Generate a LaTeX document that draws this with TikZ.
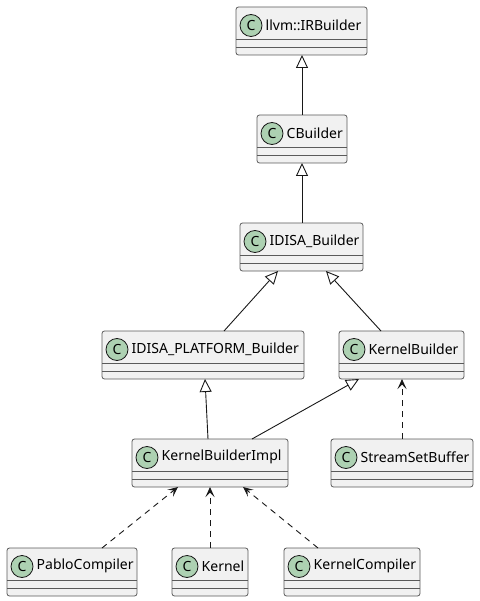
\documentclass[tikz,border=0pt]{standalone}
\usepackage{fontspec}
\setmainfont{Noto Sans}
\usetikzlibrary{arrows.meta,calc}
\definecolor{boxfill}{HTML}{F1F1F1}
\definecolor{boxline}{HTML}{5A5A5A}
\definecolor{circfill}{HTML}{ADD1B2}
\definecolor{edge}{HTML}{181818}
\tikzset{
  classbox/.style={draw=boxline, line width=0.8pt, fill=boxfill, rounded corners=2.5pt,
    minimum height=48pt, inner sep=0pt, outer sep=0pt},
  sepline/.style={draw=boxline, line width=0.8pt},
  circ/.style={circle, draw=edge, line width=0.8pt, fill=circfill, minimum size=22pt, inner sep=0pt,
    font=\fontsize{14}{14}\selectfont\bfseries},
  lbl/.style={inner sep=0pt, font=\fontsize{14}{16}\selectfont, text=black},
  inh/.style={draw=edge, line width=0.9pt, -{Triangle[open, length=13pt, width=12pt]}},
  dep/.style={draw=edge, line width=0.9pt, dash pattern=on 6pt off 5pt,
    -{Stealth[length=10pt, width=9pt, inset=4.5pt]}},
}
\newcommand\umlclass[5]{%
  \node[classbox, minimum width={#4pt-#2pt}, anchor=north west] (#1) at (#2,-#3) {};
  \draw[sepline] ([yshift=-32pt]#1.north west) -- ([yshift=-32pt]#1.north east);
  \draw[sepline] ([yshift=-40pt]#1.north west) -- ([yshift=-40pt]#1.north east);
  \node[circ] (#1c) at ([xshift=15pt, yshift=-18.5pt]#1.north west) {C};
  \node[lbl, anchor=west] (#1t) at ([xshift=29.5pt, yshift=-18pt]#1.north west) {#5};
}
\begin{document}
\begin{tikzpicture}[x=1pt, y=1pt]
\useasboundingbox (0,0) rectangle (479,-601);
\umlclass{llvm}{236}{7}{367}{llvm::IRBuilder}
\umlclass{cb}{257}{115}{347}{CBuilder}
\umlclass{idisa}{240}{223}{363}{IDISA\_Builder}
\umlclass{ipb}{102}{331}{304}{IDISA\_PLATFORM\_Builder}
\umlclass{kb}{339}{331}{464}{KernelBuilder}
\umlclass{kbi}{132}{439}{288}{KernelBuilderImpl}
\umlclass{ssb}{331}{439}{473}{StreamSetBuffer}
\umlclass{pc}{7}{548}{137}{PabloCompiler}
\umlclass{kern}{172}{548}{248}{Kernel}
\umlclass{kc}{284}{548}{420}{KernelCompiler}

\draw[inh] ([xshift=45pt]cb.north west) -- ([xshift=66pt]llvm.south west);
\draw[inh] ([xshift=45pt]cb.south west |- idisa.north) -- (cb.south);
\draw[inh] ([xshift=122pt]ipb.north west) -- ([xshift=38pt]idisa.south west);
\draw[inh] ([xshift=42pt]kb.north west) -- ([xshift=86pt]idisa.south west);
\draw[inh] ([xshift=76pt]kbi.north west) -- ([xshift=103pt]ipb.south west);
\draw[inh] ([xshift=120pt]kbi.north west) -- ([xshift=20pt]kb.south west);
\draw[dep] ([xshift=71pt]ssb.north west) -- ([xshift=63pt]kb.south west);
\draw[dep] ([xshift=95pt]pc.north west) -- ([xshift=46pt]kbi.south west);
\draw[dep] ([xshift=38pt]kern.north west) -- ([xshift=78pt]kbi.south west);
\draw[dep] ([xshift=34pt]kc.north west) -- ([xshift=111pt]kbi.south west);
\end{tikzpicture}
\end{document}
